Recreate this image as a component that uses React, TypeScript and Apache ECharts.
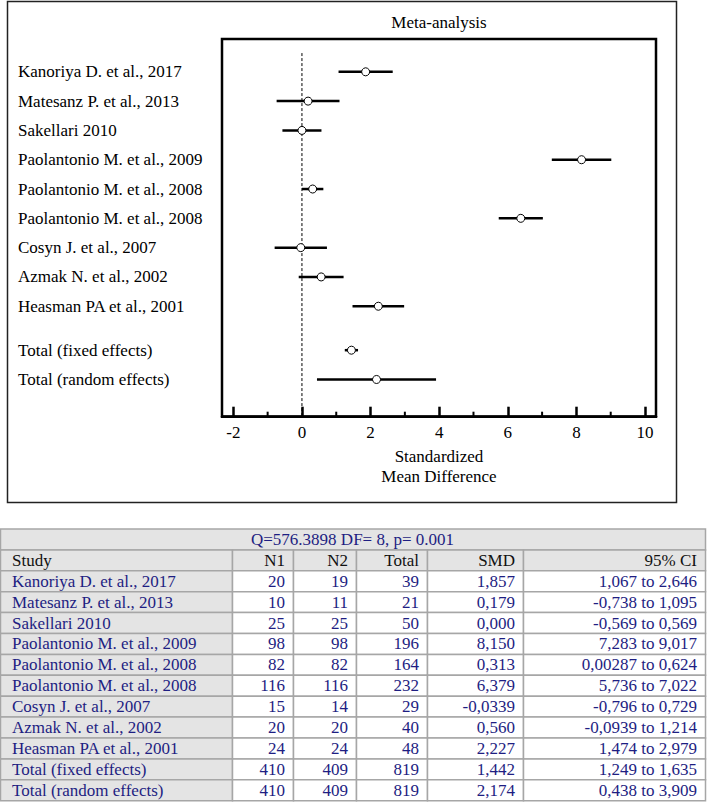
import React, { useEffect, useRef } from "react";
import * as echarts from "echarts";

const studies = [
  "Kanoriya D. et al., 2017",
  "Matesanz P. et al., 2013",
  "Sakellari 2010",
  "Paolantonio M. et al., 2009",
  "Paolantonio M. et al., 2008",
  "Paolantonio M. et al., 2008",
  "Cosyn J. et al., 2007",
  "Azmak N. et al., 2002",
  "Heasman PA et al., 2001",
];
const totalLabels = ["Total (fixed effects)", "Total (random effects)"];
const n1 = [20, 10, 25, 98, 82, 116, 15, 20, 24, 410, 410];
const n2 = [19, 11, 25, 98, 82, 116, 14, 20, 24, 409, 409];
const totals = [39, 21, 50, 196, 164, 232, 29, 40, 48, 819, 819];
const smd = [1.857, 0.179, 0, 8.15, 0.313, 6.379, -0.0339, 0.56, 2.227, 1.442, 2.174];
const ciLow = [1.067, -0.738, -0.569, 7.283, 0.00287, 5.736, -0.796, -0.0939, 1.474, 1.249, 0.438];
const ciHigh = [2.646, 1.095, 0.569, 9.017, 0.624, 7.022, 0.729, 1.214, 2.979, 1.635, 3.909];
const xTickLabels = [-2, 0, 2, 4, 6, 8, 10];
const xMinorTicks = [-1, 1, 3, 5, 7, 9];
const heterogeneity = "Q=576.3898 DF= 8, p= 0.001";
const tableHeader = ["Study", "N1", "N2", "Total", "SMD", "95% CI"];
const chartTitle = "Meta-analysis";
const xAxisName = "Standardized\nMean Difference";

const rowLabels = [...studies, ...totalLabels];
const yPos = (i: number) => (i < studies.length ? i : i + 0.5);

const fmt = (v: number) =>
  (v !== 0 && Math.abs(v) < 0.1 ? v.toPrecision(3) : v.toFixed(3)).replace(".", ",");

const SERIF = "'Liberation Serif', 'Times New Roman', serif";
const NAVY = "#1e1e82";

export default function App() {
  const ref = useRef<HTMLDivElement>(null);
  useEffect(() => {
    if (!ref.current) return;
    const chart = echarts.init(ref.current, undefined, { renderer: "svg" });

    const gridLeft = 222;
    const gridTop = 39;
    const gridW = 434;
    const gridH = 377.7;
    const yMin = -1.12;
    const yMax = 11.77;

    // Table graphics
    const colX = [0, 232, 293, 356, 427, 523, 705];
    const tTop = 529;
    const rowH = 20.9;
    const gray = "#e4e4e4";
    const border = "#a6a6a6";
    const tableEls: any[] = [];
    tableEls.push({
      type: "rect",
      shape: { x: colX[0] + 0.5, y: tTop, width: colX[6] - colX[0], height: rowH },
      style: { fill: gray, stroke: border, lineWidth: 1.5 },
    });
    tableEls.push({
      type: "text",
      x: (colX[0] + colX[6]) / 2,
      y: tTop + rowH / 2,
      style: { text: heterogeneity, fill: NAVY, font: `17px ${SERIF}`, align: "center", verticalAlign: "middle" },
    });
    const bodyRows: string[][] = rowLabels.map((lab, i) => [
      lab,
      String(n1[i]),
      String(n2[i]),
      String(totals[i]),
      fmt(smd[i]),
      `${fmt(ciLow[i])} to ${fmt(ciHigh[i])}`,
    ]);
    const allRows = [tableHeader, ...bodyRows];
    allRows.forEach((row, r) => {
      const y = tTop + rowH * (r + 1);
      row.forEach((cell, c) => {
        const isHeader = r === 0;
        const fill = isHeader || c === 0 ? gray : "#ffffff";
        tableEls.push({
          type: "rect",
          shape: { x: colX[c] + 0.5, y, width: colX[c + 1] - colX[c], height: rowH },
          style: { fill, stroke: border, lineWidth: 1.5 },
        });
        tableEls.push({
          type: "text",
          x: c === 0 ? colX[c] + 12 : colX[c + 1] - 8,
          y: y + rowH / 2,
          style: {
            text: cell,
            fill: isHeader ? "#111" : NAVY,
            font: `17px ${SERIF}`,
            align: c === 0 ? "left" : "right",
            verticalAlign: "middle",
          },
        });
      });
    });

    const labelValues = rowLabels.map((_, i) => yPos(i));

    chart.setOption({
      animation: false,
      backgroundColor: "#ffffff",
      textStyle: { fontFamily: SERIF },
      grid: {
        left: gridLeft,
        top: gridTop,
        width: gridW,
        height: gridH,
        show: true,
        borderColor: "#000",
        borderWidth: 2.5,
        backgroundColor: "transparent",
        containLabel: false,
      },
      xAxis: {
        type: "value",
        min: -2.33,
        max: 10.32,
        position: "bottom",
        axisLine: { show: true, onZero: false, lineStyle: { color: "#000", width: 2.5 } },
        axisTick: {
          show: true,
          inside: true,
          length: 10,
          lineStyle: { color: "#000", width: 2.5 },
          customValues: xTickLabels,
        },
        axisLabel: {
          show: true,
          margin: 7,
          color: "#000",
          fontSize: 17,
          fontFamily: SERIF,
          customValues: xTickLabels,
        },
        splitLine: { show: false },
        name: xAxisName,
        nameLocation: "middle",
        nameGap: 30,
        nameTextStyle: { color: "#000", fontSize: 17, fontFamily: SERIF, lineHeight: 20, verticalAlign: "top" },
      },
      yAxis: {
        type: "value",
        inverse: true,
        min: yMin,
        max: yMax,
        axisLine: { show: false, onZero: false },
        axisTick: { show: false },
        splitLine: { show: false },
        axisLabel: {
          show: true,
          customValues: labelValues,
          align: "left",
          margin: gridLeft - 18,
          color: "#000",
          fontSize: 17,
          fontFamily: SERIF,
          formatter: (v: number) => {
            const idx = labelValues.findIndex((p) => Math.abs(p - v) < 1e-6);
            return idx >= 0 ? rowLabels[idx] : "";
          },
        },
      },
      series: [
        {
          type: "line",
          data: [
            [0, -0.64],
            [0, yMax],
          ],
          symbol: "none",
          lineStyle: { color: "#000", width: 1, type: [3, 2] },
          silent: true,
          z: 1,
        },
        {
          // minor ticks on the x axis
          type: "custom",
          data: xMinorTicks.map((v) => [v, yMax]),
          encode: { x: 0, y: 1 },
          silent: true,
          z: 6,
          renderItem: (params: any, api: any) => {
            const p = api.coord([api.value(0), api.value(1)]);
            return {
              type: "line",
              shape: { x1: p[0], y1: p[1], x2: p[0], y2: p[1] - 5 },
              style: { stroke: "#000", lineWidth: 2 },
            };
          },
        },
        {
          type: "custom",
          data: rowLabels.map((_, i) => [ciLow[i], ciHigh[i], smd[i], yPos(i)]),
          encode: { x: [0, 1, 2], y: 3 },
          z: 5,
          renderItem: (params: any, api: any) => {
            const y = api.value(3);
            const p1 = api.coord([api.value(0), y]);
            const p2 = api.coord([api.value(1), y]);
            const pc = api.coord([api.value(2), y]);
            return {
              type: "group",
              children: [
                {
                  type: "line",
                  shape: { x1: p1[0], y1: p1[1], x2: p2[0], y2: p2[1] },
                  style: { stroke: "#000", lineWidth: 2.5 },
                },
                {
                  type: "circle",
                  shape: { cx: pc[0], cy: pc[1], r: 4 },
                  style: { fill: "#fff", stroke: "#000", lineWidth: 1 },
                },
              ],
            };
          },
        },
      ],
      graphic: [
        {
          type: "rect",
          shape: { x: 7.5, y: 1.5, width: 669, height: 501 },
          style: { fill: "none", stroke: "#222", lineWidth: 1.5 },
          z: -1,
        },
        {
          type: "text",
          x: gridLeft + gridW / 2,
          y: 22.7,
          style: {
            text: chartTitle,
            fill: "#000",
            font: `17px ${SERIF}`,
            align: "center",
            verticalAlign: "middle",
          },
        },
        ...tableEls,
      ],
    });
    return () => chart.dispose();
  }, []);
  return (
    <div
      ref={ref}
      style={{ position: "absolute", left: 0, top: 0, width: 709, height: 802, background: "#fff" }}
    />
  );
}
